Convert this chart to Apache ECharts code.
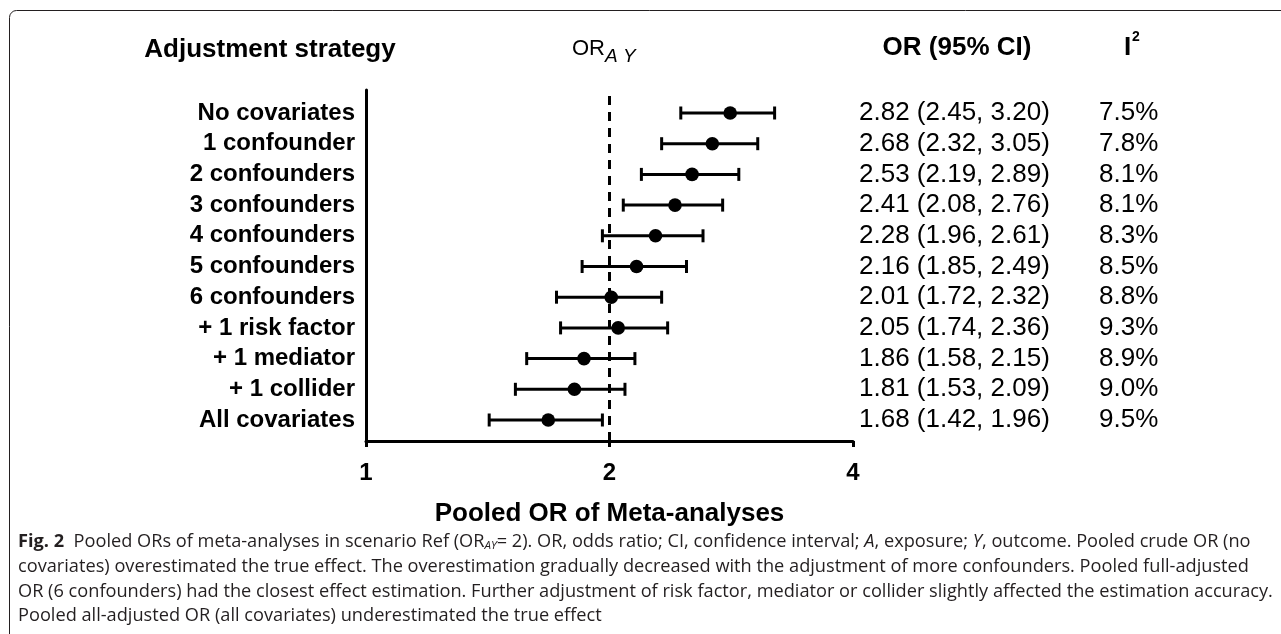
<!DOCTYPE html>
<html>
<head>
<meta charset="utf-8">
<script src="https://cdn.jsdelivr.net/npm/echarts@6/dist/echarts.min.js"></script>
<style>
  html, body { margin: 0; padding: 0; background: #fff; }
  #chart { width: 1281px; height: 634px; }
</style>
</head>
<body>
<div id="chart"></div>
<script>
var categories = ['No covariates', '1 confounder', '2 confounders', '3 confounders', '4 confounders',
    '5 confounders', '6 confounders', '+ 1 risk factor', '+ 1 mediator', '+ 1 collider', 'All covariates'];
var orValues = [2.82, 2.68, 2.53, 2.41, 2.28, 2.16, 2.01, 2.05, 1.86, 1.81, 1.68];
var ciLower = [2.45, 2.32, 2.19, 2.08, 1.96, 1.85, 1.72, 1.74, 1.58, 1.53, 1.42];
var ciUpper = [3.20, 3.05, 2.89, 2.76, 2.61, 2.49, 2.32, 2.36, 2.15, 2.09, 1.96];
var i2Values = [7.5, 7.8, 8.1, 8.1, 8.3, 8.5, 8.8, 9.3, 8.9, 9.0, 9.5];
var trueOR = 2;
var xMin = 1, xMax = 4;

var FONT = 'Liberation Sans, Arial, Helvetica, sans-serif';
var CAPFONT = 'Open Sans, Noto Sans, sans-serif';
var CAPSIZE = 18.2;

var orText = categories.map(function (c, i) {
    return orValues[i].toFixed(2) + ' (' + ciLower[i].toFixed(2) + ', ' + ciUpper[i].toFixed(2) + ')';
});
var i2Text = i2Values.map(function (v) { return v.toFixed(1) + '%'; });

var barData = categories.map(function (c, i) {
    return [ciLower[i], ciUpper[i], orValues[i], i];
});

// error bar + dot
function renderItem(params, api) {
    var row = api.value(3);
    var lo = api.coord([api.value(0), row]);
    var hi = api.coord([api.value(1), row]);
    var mid = api.coord([api.value(2), row]);
    var cap = 6.5;
    var st = { stroke: '#000', lineWidth: 3 };
    return {
        type: 'group',
        children: [
            { type: 'line', shape: { x1: lo[0], y1: lo[1], x2: hi[0], y2: hi[1] }, style: st },
            { type: 'line', shape: { x1: lo[0], y1: lo[1] - cap, x2: lo[0], y2: lo[1] + cap }, style: st },
            { type: 'line', shape: { x1: hi[0], y1: hi[1] - cap, x2: hi[0], y2: hi[1] + cap }, style: st },
            { type: 'circle', shape: { cx: mid[0], cy: mid[1], r: 6.8 }, style: { fill: '#000' } }
        ]
    };
}

var capRich = {
    b: { fontFamily: CAPFONT, fontSize: CAPSIZE, fontWeight: 'bold', fill: '#231f20' },
    i: { fontFamily: CAPFONT, fontSize: CAPSIZE, fontStyle: 'italic', fill: '#231f20' },
    sub: { fontFamily: CAPFONT, fontSize: 11.5, fontStyle: 'italic', fill: '#231f20', verticalAlign: 'bottom', padding: [7, 0, 0, 0] }
};
var captionLines = [
    '{b|Fig. 2}  Pooled ORs of meta-analyses in scenario Ref (OR{sub|AY}= 2). OR, odds ratio; CI, confidence interval; {i|A}, exposure; {i|Y}, outcome. Pooled crude OR (no',
    'covariates) overestimated the true effect. The overestimation gradually decreased with the adjustment of more confounders. Pooled full-adjusted',
    'OR (6 confounders) had the closest effect estimation. Further adjustment of risk factor, mediator or collider slightly affected the estimation accuracy.',
    'Pooled all-adjusted OR (all covariates) underestimated the true effect'
];
var captionY = [542, 567, 592, 616];

var graphics = [
    { type: 'rect', shape: { x: 9.5, y: 10.5, width: 1400, height: 800, r: 7 },
      style: { fill: 'none', stroke: '#231f20', lineWidth: 1 }, silent: true },
    { type: 'text', x: 270, y: 50, style: { text: 'Adjustment strategy', font: 'bold 26px ' + FONT, fill: '#000', align: 'center', verticalAlign: 'middle' } },
    { type: 'text', x: 572, y: 49, style: { text: 'OR', font: '22px ' + FONT, fill: '#000', align: 'left', verticalAlign: 'middle' } },
    { type: 'text', x: 605, y: 57, style: { text: 'A Y', font: 'italic 19px ' + FONT, fill: '#000', align: 'left', verticalAlign: 'middle' } },
    { type: 'text', x: 957, y: 48, style: { text: 'OR (95% CI)', font: 'bold 26px ' + FONT, fill: '#000', align: 'center', verticalAlign: 'middle' } },
    { type: 'text', x: 1124, y: 48, style: { text: 'I', font: 'bold 26px ' + FONT, fill: '#000', align: 'left', verticalAlign: 'middle' } },
    { type: 'text', x: 1132, y: 37, style: { text: '2', font: 'bold 14px ' + FONT, fill: '#000', align: 'left', verticalAlign: 'middle' } }
];
captionLines.forEach(function (t, k) {
    graphics.push({
        type: 'text', x: 18, y: captionY[k],
        style: { text: t, fontFamily: CAPFONT, fontSize: CAPSIZE, fill: '#231f20', rich: capRich, verticalAlign: 'middle', align: 'left' }
    });
});

var myChart = echarts.init(document.getElementById('chart'), null, { renderer: 'canvas' });

var option = {
    animation: false,
    backgroundColor: '#fff',
    grid: [
        { left: 366, right: 428, top: 97.65, bottom: 198.65 },
        { left: 366, right: 428, top: 90, bottom: 193 }
    ],
    xAxis: [
        { gridIndex: 0, type: 'log', logBase: 2, min: xMin, max: xMax, show: false },
        {
            gridIndex: 1, type: 'log', logBase: 2, min: xMin, max: xMax,
            name: 'Pooled OR of Meta-analyses', nameLocation: 'middle', nameGap: 60,
            nameTextStyle: { fontFamily: FONT, fontWeight: 'bold', fontSize: 26, color: '#000' },
            axisLine: { onZero: false, lineStyle: { color: '#000', width: 3 } },
            axisTick: { length: 6, lineStyle: { color: '#000', width: 3 } },
            axisLabel: { margin: 20, fontFamily: FONT, fontWeight: 'bold', fontSize: 24, color: '#000' },
            splitLine: { show: false },
            minorTick: { show: false }
        }
    ],
    yAxis: [
        {
            gridIndex: 0, type: 'category', inverse: true, data: categories, position: 'left',
            axisLine: { show: false },
            axisTick: { alignWithLabel: true, interval: 0, length: 8, lineStyle: { color: '#000', width: 3 } },
            axisLabel: { interval: 0, margin: 11, fontFamily: FONT, fontWeight: 'bold', fontSize: 24, color: '#000' },
            splitLine: { show: false }
        },
        {
            gridIndex: 0, type: 'category', inverse: true, data: orText, position: 'right', offset: 0,
            axisLine: { show: false }, axisTick: { show: false },
            axisLabel: { interval: 0, margin: 6, fontFamily: FONT, fontSize: 26, color: '#000' }
        },
        {
            gridIndex: 0, type: 'category', inverse: true, data: i2Text, position: 'right', offset: 246,
            axisLine: { show: false }, axisTick: { show: false },
            axisLabel: { interval: 0, margin: 0, fontFamily: FONT, fontSize: 26, color: '#000' }
        },
        {
            gridIndex: 1, type: 'value', min: 0, max: 1, position: 'left',
            axisLine: { show: true, onZero: false, lineStyle: { color: '#000', width: 3 } },
            axisTick: { show: false }, axisLabel: { show: false }, splitLine: { show: false }
        }
    ],
    graphic: graphics,
    series: [
        {
            name: 'true OR', type: 'line', xAxisIndex: 1, yAxisIndex: 3,
            data: [[trueOR, 0], [trueOR, 1]], symbol: 'none', silent: true,
            lineStyle: { color: '#000', width: 3, type: [9, 7] }, z: 1
        },
        {
            name: 'pooled OR', type: 'custom', xAxisIndex: 0, yAxisIndex: 0,
            renderItem: renderItem, data: barData,
            encode: { x: [0, 1, 2], y: 3 }, z: 3
        }
    ]
};
myChart.setOption(option);
</script>
</body>
</html>
